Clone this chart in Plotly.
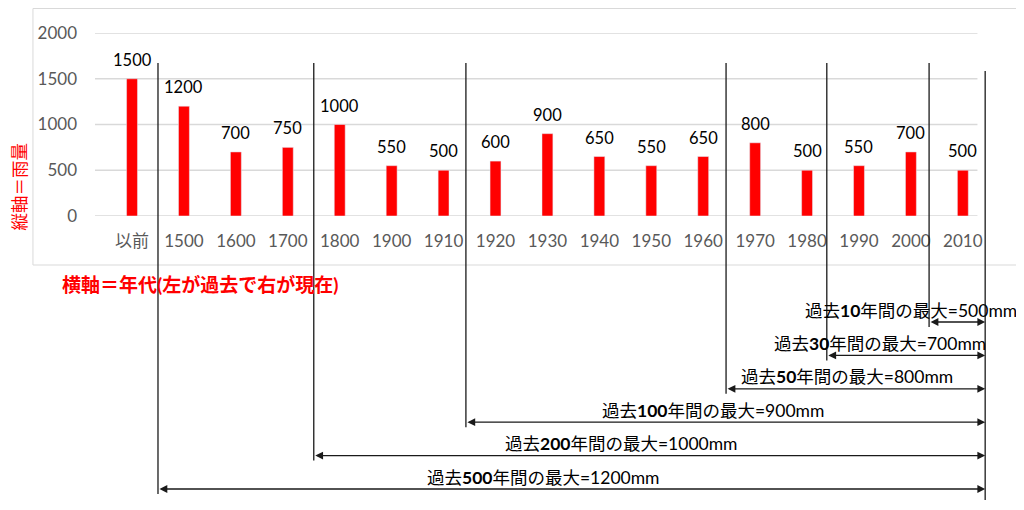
import plotly.graph_objects as go

# rainfall per period (left = past, right = present)
categories = ["以前", "1500", "1600", "1700", "1800", "1900", "1910", "1920", "1930",
              "1940", "1950", "1960", "1970", "1980", "1990", "2000", "2010"]
rainfall = [1500, 1200, 700, 750, 1000, 550, 500, 600, 900,
            650, 550, 650, 800, 500, 550, 700, 500]
y_ticks = [0, 500, 1000, 1500, 2000]

# look-back windows and the first category each one covers
period_years = [10, 30, 50, 100, 200, 500]
period_start = ["2010", "1990", "1970", "1920", "1800", "1500"]

FONT = "Lato, Noto Sans CJK JP, sans-serif"
W, H = 1024, 510
OFF = 8                      # page body margin
SCALE = 51.9                 # px per category
x_lo, x_hi = -0.713, 16.6
L, T, B = 87, 25, 302
plot_w = (x_hi - x_lo) * SCALE
R = W - L - plot_w
plot_h = H - T - B


def fx(px):
    # screen pixel column -> paper x
    return (px - OFF - L) / plot_w


def fy(py):
    # screen pixel row -> paper y
    return (H - B - (py - OFF)) / plot_h


x_idx = list(range(len(categories)))

fig = go.Figure()
fig.add_trace(go.Bar(x=x_idx, y=rainfall, marker_color="#ff0000",
                     width=0.21, hoverinfo="y"))

annotations = []
for i, v in zip(x_idx, rainfall):
    annotations.append(dict(x=i, y=v, text=str(v), showarrow=False, yanchor="bottom",
                            xanchor="center", yshift=7,
                            font=dict(family=FONT, size=16.5, color="#000")))

shapes = []
for v in y_ticks:
    shapes.append(dict(type="line", xref="paper", yref="y", x0=fx(95), x1=fx(977),
                       y0=v, y1=v, line=dict(color="#d9d9d9", width=1.3), layer="below"))

right_x = len(categories) - 1 + 0.43
shapes.append(dict(type="line", xref="x", yref="paper", x0=right_x, x1=right_x,
                   y0=fy(71), y1=fy(500), line=dict(color="#1a1a1a", width=1.3)))

row0, row_step = 322, 33.4
label_px = [911, 880, 847, 713, 621, 543]
nudge = [-0.15, -0.12, -0.06, -0.07, 0.0, 0.0]
for k, (yrs, start) in enumerate(zip(period_years, period_start)):
    idx = categories.index(start)
    sx = idx - 0.5 + nudge[k]
    arrow_y = row0 + row_step * k
    shapes.append(dict(type="line", xref="x", yref="paper", x0=sx, x1=sx,
                       y0=fy(63), y1=fy(arrow_y + 5),
                       line=dict(color="#1a1a1a", width=1.3)))
    annotations.append(dict(x=right_x, y=fy(arrow_y), xref="x", yref="paper",
                            ax=sx, axref="x", ay=0, ayref="pixel", text="",
                            showarrow=True, arrowside="end+start", arrowhead=2,
                            arrowsize=1.2, arrowwidth=1.3, arrowcolor="#1a1a1a",
                            standoff=0, startstandoff=0))
    peak = max(rainfall[idx:])
    annotations.append(dict(x=fx(label_px[k]), y=fy(arrow_y - 12), xref="paper",
                            yref="paper", xanchor="center", yanchor="middle",
                            showarrow=False,
                            text=f"過去<b>{yrs}</b>年間の最大={peak}mm",
                            font=dict(family=FONT, size=17.5, color="#000")))

annotations.append(dict(x=fx(19.5), y=fy(186), xref="paper", yref="paper",
                        xanchor="center", yanchor="middle",
                        text="縦軸＝雨量", textangle=-90, showarrow=False,
                        font=dict(family=FONT, size=17.5, color="#ff0000")))
annotations.append(dict(x=fx(200), y=fy(284), xref="paper", yref="paper",
                        xanchor="center", yanchor="middle",
                        text="<b>横軸＝年代(左が過去で右が現在)</b>", showarrow=False,
                        font=dict(family=FONT, size=19, color="#ff0000")))

# outer chart frame
shapes.append(dict(type="rect", xref="paper", yref="paper", x0=fx(33), x1=fx(1022),
                   y0=fy(265), y1=fy(8.5), line=dict(color="#d9d9d9", width=1),
                   layer="below"))

fig.update_layout(
    width=W, height=H, margin=dict(l=L, r=R, t=T, b=B),
    paper_bgcolor="white", plot_bgcolor="white", showlegend=False,
    font=dict(family=FONT),
    annotations=annotations, shapes=shapes,
    xaxis=dict(range=[x_lo, x_hi], tickmode="array", tickvals=x_idx, ticktext=categories,
               showgrid=False, showline=False, zeroline=False, ticks="",
               ticklabelstandoff=13,
               tickfont=dict(family=FONT, size=17, color="#595959")),
    yaxis=dict(range=[0, 2000], tickvals=y_ticks, showgrid=False,
               zeroline=False, showline=False, ticks="",
               ticklabelstandoff=17, tickfont=dict(family=FONT, size=17, color="#595959")),
)

fig.write_html("out.html")
